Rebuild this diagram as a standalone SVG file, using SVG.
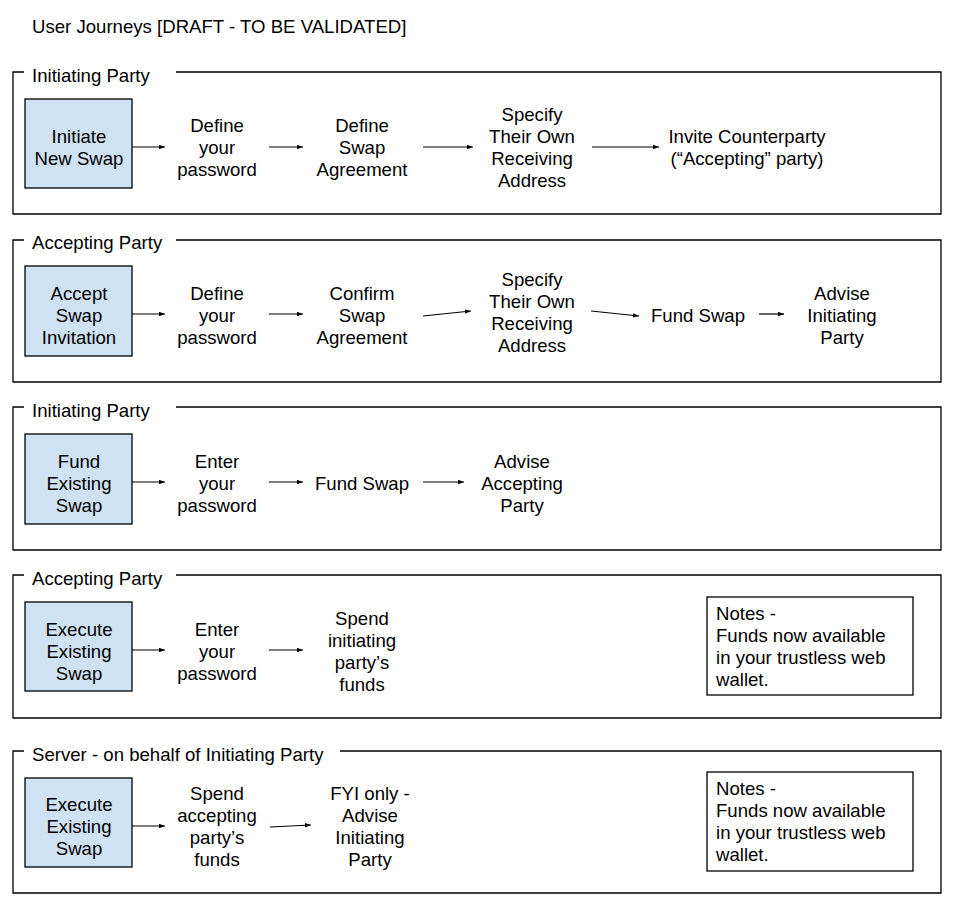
<svg xmlns="http://www.w3.org/2000/svg" width="965" height="915" viewBox="0 0 965 915">
<style>
text{font-family:"Liberation Sans",Arial,sans-serif;font-size:18.6px;fill:#000}
.c{text-anchor:middle}
.frame{fill:none;stroke:#000;stroke-width:1.3}
.start{fill:#cfe2f3;stroke:#000;stroke-width:1.3}
.note{fill:#fff;stroke:#000;stroke-width:1.3}
.conn line{stroke:#000;stroke-width:1.2;marker-end:url(#ah)}
</style>
<defs>
<marker id="ah" viewBox="0 0 8 6" refX="8" refY="3" markerWidth="6" markerHeight="4.5" markerUnits="userSpaceOnUse" orient="auto"><path d="M0,0L8,3L0,6z" fill="#000"/></marker>
</defs>
<rect width="965" height="915" fill="#fff"/>
<text x="32" y="33">User Journeys [DRAFT - TO BE VALIDATED]</text>

<g id="section1">
<path class="frame" d="M24,72H13V214H941V72H176"/>
<text x="32" y="82">Initiating Party</text>
</g>
<g id="section2">
<path class="frame" d="M24,240H13V382H941V240H176"/>
<text x="32" y="249">Accepting Party</text>
</g>
<g id="section3">
<path class="frame" d="M24,407H13V550H941V407H176"/>
<text x="32" y="417">Initiating Party</text>
</g>
<g id="section4">
<path class="frame" d="M24,575H13V718H941V575H176"/>
<text x="32" y="585">Accepting Party</text>
</g>
<g id="section5">
<path class="frame" d="M24,751H13V893H941V751H340"/>
<text x="32" y="761">Server - on behalf of Initiating Party</text>
</g>

<!-- Section 1 nodes -->
<g id="n1a"><rect class="start" x="25" y="99" width="107" height="89"/>
<text class="c" x="79" y="143">Initiate</text><text class="c" x="79" y="165">New Swap</text></g>
<g id="n1b"><text class="c" x="217" y="132">Define</text><text class="c" x="217" y="154">your</text><text class="c" x="217" y="176">password</text></g>
<g id="n1c"><text class="c" x="362" y="132">Define</text><text class="c" x="362" y="154">Swap</text><text class="c" x="362" y="176">Agreement</text></g>
<g id="n1d"><text class="c" x="532" y="121">Specify</text><text class="c" x="532" y="143">Their Own</text><text class="c" x="532" y="165">Receiving</text><text class="c" x="532" y="187">Address</text></g>
<g id="n1e"><text class="c" x="747" y="143">Invite Counterparty</text><text class="c" x="747" y="165">(“Accepting” party)</text></g>

<!-- Section 2 nodes -->
<g id="n2a"><rect class="start" x="25" y="266" width="107" height="90"/>
<text class="c" x="79" y="300">Accept</text><text class="c" x="79" y="322">Swap</text><text class="c" x="79" y="344">Invitation</text></g>
<g id="n2b"><text class="c" x="217" y="300">Define</text><text class="c" x="217" y="322">your</text><text class="c" x="217" y="344">password</text></g>
<g id="n2c"><text class="c" x="362" y="300">Confirm</text><text class="c" x="362" y="322">Swap</text><text class="c" x="362" y="344">Agreement</text></g>
<g id="n2d"><text class="c" x="532" y="286">Specify</text><text class="c" x="532" y="308">Their Own</text><text class="c" x="532" y="330">Receiving</text><text class="c" x="532" y="352">Address</text></g>
<g id="n2e"><text class="c" x="698" y="322">Fund Swap</text></g>
<g id="n2f"><text class="c" x="842" y="300">Advise</text><text class="c" x="842" y="322">Initiating</text><text class="c" x="842" y="344">Party</text></g>

<!-- Section 3 nodes -->
<g id="n3a"><rect class="start" x="25" y="434" width="107" height="90"/>
<text class="c" x="79" y="468">Fund</text><text class="c" x="79" y="490">Existing</text><text class="c" x="79" y="512">Swap</text></g>
<g id="n3b"><text class="c" x="217" y="468">Enter</text><text class="c" x="217" y="490">your</text><text class="c" x="217" y="512">password</text></g>
<g id="n3c"><text class="c" x="362" y="490">Fund Swap</text></g>
<g id="n3d"><text class="c" x="522" y="468">Advise</text><text class="c" x="522" y="490">Accepting</text><text class="c" x="522" y="512">Party</text></g>

<!-- Section 4 nodes -->
<g id="n4a"><rect class="start" x="25" y="602" width="107" height="89"/>
<text class="c" x="79" y="636">Execute</text><text class="c" x="79" y="658">Existing</text><text class="c" x="79" y="680">Swap</text></g>
<g id="n4b"><text class="c" x="217" y="636">Enter</text><text class="c" x="217" y="658">your</text><text class="c" x="217" y="680">password</text></g>
<g id="n4c"><text class="c" x="362" y="625">Spend</text><text class="c" x="362" y="647">initiating</text><text class="c" x="362" y="669">party’s</text><text class="c" x="362" y="691">funds</text></g>
<g id="n4note"><rect class="note" x="707" y="597" width="206" height="98"/>
<text x="716" y="620">Notes -</text><text x="716" y="642">Funds now available</text><text x="716" y="664">in your trustless web</text><text x="716" y="686">wallet.</text></g>

<!-- Section 5 nodes -->
<g id="n5a"><rect class="start" x="25" y="778" width="107" height="89"/>
<text class="c" x="79" y="811">Execute</text><text class="c" x="79" y="833">Existing</text><text class="c" x="79" y="855">Swap</text></g>
<g id="n5b"><text class="c" x="217" y="800">Spend</text><text class="c" x="217" y="822">accepting</text><text class="c" x="217" y="844">party’s</text><text class="c" x="217" y="866">funds</text></g>
<g id="n5c"><text class="c" x="370" y="800">FYI only -</text><text class="c" x="370" y="822">Advise</text><text class="c" x="370" y="844">Initiating</text><text class="c" x="370" y="866">Party</text></g>
<g id="n5note"><rect class="note" x="707" y="772" width="206" height="99"/>
<text x="716" y="795">Notes -</text><text x="716" y="817">Funds now available</text><text x="716" y="839">in your trustless web</text><text x="716" y="861">wallet.</text></g>

<g id="connectors" class="conn">
<line x1="132" y1="147" x2="165" y2="147"/>
<line x1="269" y1="147" x2="303" y2="147"/>
<line x1="423" y1="147" x2="473" y2="147"/>
<line x1="592" y1="147" x2="659" y2="147"/>

<line x1="132" y1="314" x2="165" y2="314"/>
<line x1="269" y1="314" x2="303" y2="314"/>
<line x1="423" y1="316" x2="471" y2="311"/>
<line x1="591" y1="311" x2="639" y2="316"/>
<line x1="759" y1="314" x2="784" y2="314"/>

<line x1="132" y1="482" x2="165" y2="482"/>
<line x1="269" y1="482" x2="303" y2="482"/>
<line x1="423" y1="482" x2="464" y2="482"/>

<line x1="132" y1="650" x2="165" y2="650"/>
<line x1="269" y1="650" x2="303" y2="650"/>

<line x1="132" y1="826" x2="165" y2="826"/>
<line x1="270" y1="827" x2="311" y2="825"/>
</g>
</svg>
